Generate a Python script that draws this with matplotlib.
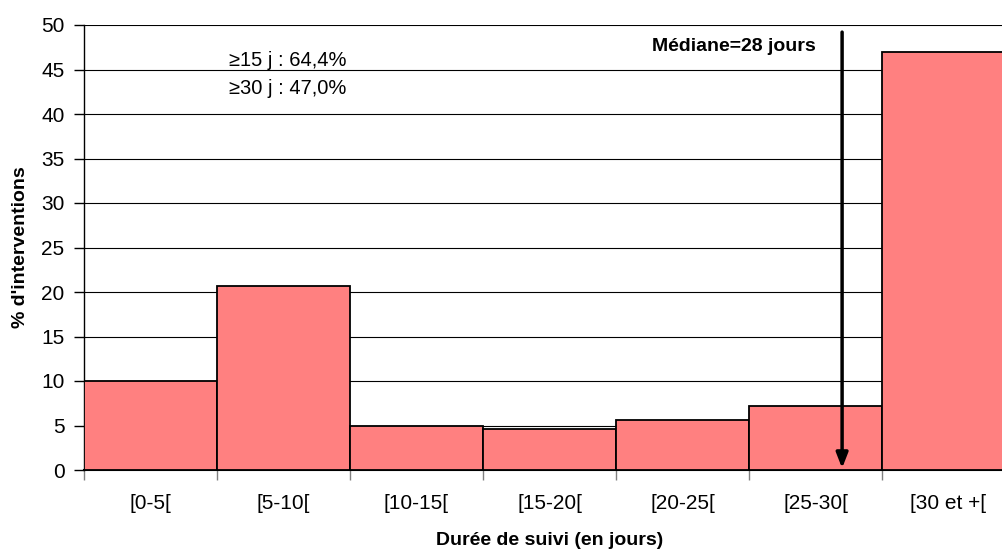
import numpy as np
import matplotlib
matplotlib.use("Agg")
from matplotlib import pyplot as plt

plt.rcParams['font.family'] = ['Liberation Sans', 'DejaVu Sans']

# data
categories = ["[0-5[", "[5-10[", "[10-15[", "[15-20[", "[20-25[", "[25-30[", "[30 et +["]
pct = [10.0, 20.7, 4.9, 4.6, 5.6, 7.2, 47.0]
median_pos = 5.2      # position of the median arrow on the category axis
note_lines = ["\u226515 j : 64,4%", "\u226530 j : 47,0%"]

fig = plt.figure(figsize=(10.03, 5.49), dpi=100)
# axes run a bit past the right edge, as in the original
ax = fig.add_axes([84/1003, 1 - 470/549, 931/1003, 445/549])

x = np.arange(len(categories))
ax.bar(x, pct, width=1.0, color="#FF8080", edgecolor="black", lw=1.3, zorder=3)

ax.set_xlim(-0.5, len(categories) - 0.5)
ax.set_ylim(0, 50)
ax.set_yticks(np.arange(0, 51, 5))
ax.yaxis.grid(True, color="black", lw=0.8, zorder=0)
ax.set_axisbelow(True)

# category ticks sit at bar boundaries
ax.set_xticks(x)
ax.set_xticklabels(categories)
ax.set_xticks(np.arange(-0.5, len(categories)), minor=True)
ax.tick_params(axis="x", which="major", length=0, pad=17, labelsize=15)
ax.tick_params(axis="x", which="minor", length=7, color="#808080", width=1)
ax.tick_params(axis="y", length=7, width=1, labelsize=15, pad=7)

for s in ["top", "right"]:
    ax.spines[s].set_visible(False)
ax.spines["left"].set_linewidth(1)
ax.spines["bottom"].set_linewidth(1.5)

ax.set_ylabel("% d'interventions", fontweight="bold", fontsize=14, labelpad=9)
ax.set_xlabel("Durée de suivi (en jours)", fontweight="bold", fontsize=14, labelpad=14)

# median arrow
ax.annotate("", xy=(median_pos, 0.2), xytext=(median_pos, 49.2),
            arrowprops=dict(arrowstyle="-|>,head_width=0.35,head_length=0.9",
                            color="black", lw=2.5, shrinkA=0, shrinkB=0),
            zorder=5)
ax.text(median_pos - 0.2, 47.6, "Médiane=28 jours", ha="right", va="center",
        fontweight="bold", fontsize=14, zorder=5)

ax.text(0.59, 46.0, note_lines[0], ha="left", va="center", fontsize=14.5)
ax.text(0.59, 42.9, note_lines[1], ha="left", va="center", fontsize=14.5)

plt.savefig("out.png", dpi=100)
